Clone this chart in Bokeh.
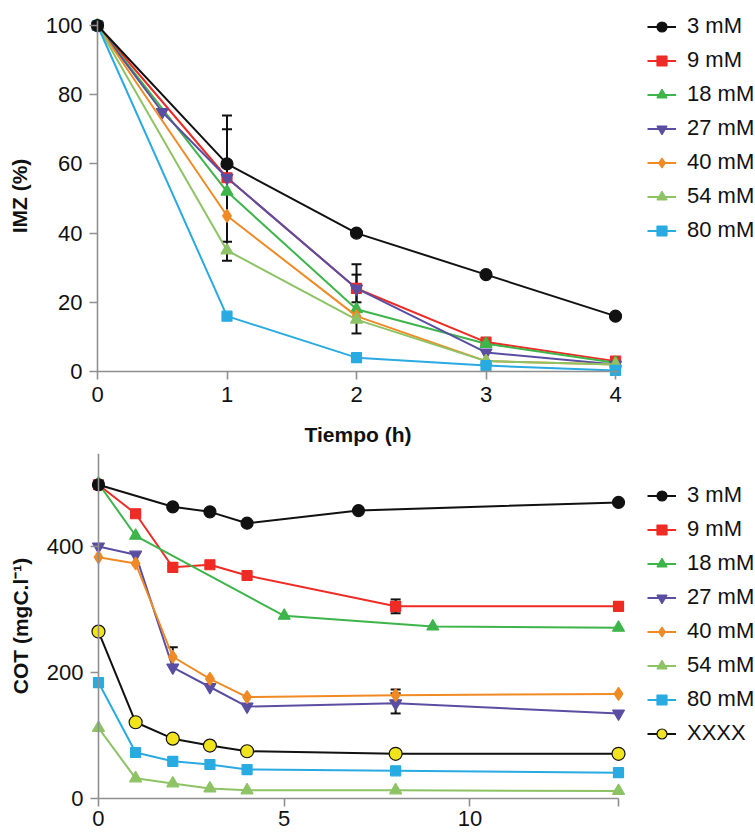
from bokeh.plotting import figure
from bokeh.models import Legend, LegendItem, Whisker, ColumnDataSource, TeeHead, FixedTicker
from bokeh.layouts import column
from bokeh.embed import file_html
from bokeh.resources import INLINE

FONT = "Liberation Sans"

series_labels = ["3 mM", "9 mM", "18 mM", "27 mM", "40 mM", "54 mM", "80 mM"]
series_colors = ["#111111", "#ee2b24", "#3db54a", "#5a4ea2", "#f08a24", "#8dc365", "#29abe2"]
series_markers = ["circle", "square", "triangle", "inverted_triangle", "diamond", "triangle", "square"]
series_sizes = [12, 10, 12, 12, 13, 12, 10]

# ---- Top chart: IMZ (%) vs Tiempo (h)
imz_time = [0, 1, 2, 3, 4]
imz_time_27 = [0, 0.5, 1, 2, 3, 4]
imz_3 = [100, 60, 40, 28, 16]
imz_9 = [100, 56, 24, 8.5, 3]
imz_18 = [100, 52, 18, 8, 2.5]
imz_27 = [100, 75, 56, 24, 5.5, 2]
imz_40 = [100, 45, 16, 3, 2]
imz_54 = [100, 35, 15, 3, 2]
imz_80 = [100, 16, 4, 1.7, 0.3]
imz_err_time = [1, 1, 2, 2]
imz_err_low = [32, 37.5, 11, 20]
imz_err_high = [74, 70, 31, 28]
imz_ticks_x = [0, 1, 2, 3, 4]
imz_ticks_y = [0, 20, 40, 60, 80, 100]

# ---- Bottom chart: COT (mgC.l-1)
cot_time_3 = [0, 2, 3, 4, 7, 14]
cot_3 = [498, 463, 455, 437, 457, 470]
cot_time_9 = [0, 1, 2, 3, 4, 8, 14]
cot_9 = [498, 452, 367, 371, 354, 305, 305]
cot_time_18 = [0, 1, 5, 9, 14]
cot_18 = [500, 417, 290, 273, 271]
cot_time = [0, 1, 2, 3, 4, 8, 14]
cot_27 = [400, 387, 208, 177, 146, 151, 135]
cot_40 = [383, 373, 225, 190, 161, 164, 166]
cot_54 = [112, 32, 24, 16, 13, 13, 12]
cot_80 = [184, 73, 59, 54, 46, 44, 41]
cot_xxxx = [265, 121, 95, 84, 75, 71, 71]
cot_err_time = [2, 8, 8, 8]
cot_err_low = [212, 294, 155, 135]
cot_err_high = [240, 316, 173, 167]
cot_ticks_x = [0, 5, 10, 14]
cot_ticks_y = [0, 200, 400]

AXIS_COLOR = "#8f8f8f"
INK = "#111111"


def style(p, xt, yt, xb, yb, xlabel, ylabel, xstand):
    p.xgrid.visible = False
    p.ygrid.visible = False
    p.outline_line_color = None
    p.xaxis.fixed_location = 0
    p.yaxis.fixed_location = 0
    p.xaxis.bounds = xb
    p.yaxis.bounds = yb
    p.xaxis.ticker = FixedTicker(ticks=xt)
    p.yaxis.ticker = FixedTicker(ticks=yt)
    for ax in (p.xaxis, p.yaxis):
        ax.axis_line_color = AXIS_COLOR
        ax.axis_line_width = 1.6
        ax.major_tick_line_color = AXIS_COLOR
        ax.major_tick_line_width = 1.6
        ax.major_tick_out = 8
        ax.major_tick_in = 0
        ax.minor_tick_out = 0
        ax.minor_tick_in = 0
        ax.major_label_text_font = FONT
        ax.major_label_text_font_size = "22px"
        ax.major_label_text_color = INK
        ax.axis_label_text_font = FONT
        ax.axis_label_text_font_size = "21px"
        ax.axis_label_text_font_style = "bold"
        ax.axis_label_text_color = INK
    p.xaxis.major_label_standoff = xstand
    p.yaxis.major_label_standoff = 7
    p.xaxis.axis_label_standoff = 18
    p.yaxis.axis_label_standoff = 12
    p.xaxis.axis_label = xlabel
    p.yaxis.axis_label = ylabel


def add_series(p, xs, ys, color, marker, size, fill=None):
    r1 = p.line(xs, ys, line_color=color, line_width=2)
    r2 = p.scatter(xs, ys, marker=marker, size=size,
                   fill_color=fill or color, line_color=color, line_width=1.2)
    return [r1, r2]


def add_errors(p, xs, lo, hi):
    src = ColumnDataSource(dict(base=xs, lower=lo, upper=hi))
    p.add_layout(Whisker(source=src, base="base", lower="lower", upper="upper",
                         line_color=INK, line_width=2,
                         upper_head=TeeHead(size=10, line_color=INK, line_width=2),
                         lower_head=TeeHead(size=10, line_color=INK, line_width=2)))


def make_legend(items, vx, vy):
    lg = Legend(items=items, location=(vx, vy), orientation="vertical")
    lg.label_text_font = FONT
    lg.label_text_font_size = "22px"
    lg.label_text_color = INK
    lg.glyph_width = 29
    lg.glyph_height = 25
    lg.label_height = 25
    lg.label_standoff = 11
    lg.spacing = 8
    lg.padding = 0
    lg.margin = 0
    lg.border_line_color = None
    lg.background_fill_alpha = 0
    return lg


# ---------- Top figure (frame covers the whole figure; axes sit at x=0 / y=0)
p1 = figure(width=755, height=453,
            x_range=(-0.749, 5.081), y_range=(-23.70, 107.23),
            min_border_left=0, min_border_right=0,
            min_border_top=0, min_border_bottom=0,
            toolbar_location=None, output_backend="svg")
style(p1, imz_ticks_x, imz_ticks_y, (0, 4.02), (0, 101.5), "Tiempo (h)", "IMZ (%)", 7)

top_x = [imz_time, imz_time, imz_time, imz_time_27, imz_time, imz_time, imz_time]
top_y = [imz_3, imz_9, imz_18, imz_27, imz_40, imz_54, imz_80]
top_r = [None] * 7
for i in [1, 2, 3, 4, 5, 6, 0]:
    top_r[i] = add_series(p1, top_x[i], top_y[i], series_colors[i], series_markers[i], series_sizes[i])
add_errors(p1, imz_err_time, imz_err_low, imz_err_high)

items1 = [LegendItem(label=series_labels[i], renderers=top_r[i]) for i in range(7)]
p1.add_layout(make_legend(items1, 647, 210))

# ---------- Bottom figure
p2 = figure(width=755, height=383,
            x_range=(-2.638, 17.688), y_range=(-60.3, 547.6),
            min_border_left=0, min_border_right=0,
            min_border_top=0, min_border_bottom=0,
            toolbar_location=None, output_backend="svg")
style(p2, cot_ticks_x, cot_ticks_y, (0, 14), (0, 547), "", "COT (mgC.l⁻¹)", 4)
p2.xaxis.major_label_overrides = {14: ""}

bot_x = [cot_time_3, cot_time_9, cot_time_18, cot_time, cot_time, cot_time, cot_time]
bot_y = [cot_3, cot_9, cot_18, cot_27, cot_40, cot_54, cot_80]
bot_r = [None] * 7
for i in [1, 2, 3, 4, 5, 6]:
    bot_r[i] = add_series(p2, bot_x[i], bot_y[i], series_colors[i], series_markers[i], series_sizes[i])
xr = add_series(p2, cot_time, cot_xxxx, INK, "circle", 13, fill="#f2e41c")
bot_r[0] = add_series(p2, bot_x[0], bot_y[0], series_colors[0], series_markers[0], series_sizes[0])
add_errors(p2, cot_err_time, cot_err_low, cot_err_high)

items2 = [LegendItem(label=series_labels[i], renderers=bot_r[i]) for i in range(7)]
items2.append(LegendItem(label="XXXX", renderers=xr))
p2.add_layout(make_legend(items2, 647, 90))

layout = column(p1, p2, spacing=0)
open("out.html", "w").write(file_html(layout, INLINE))
